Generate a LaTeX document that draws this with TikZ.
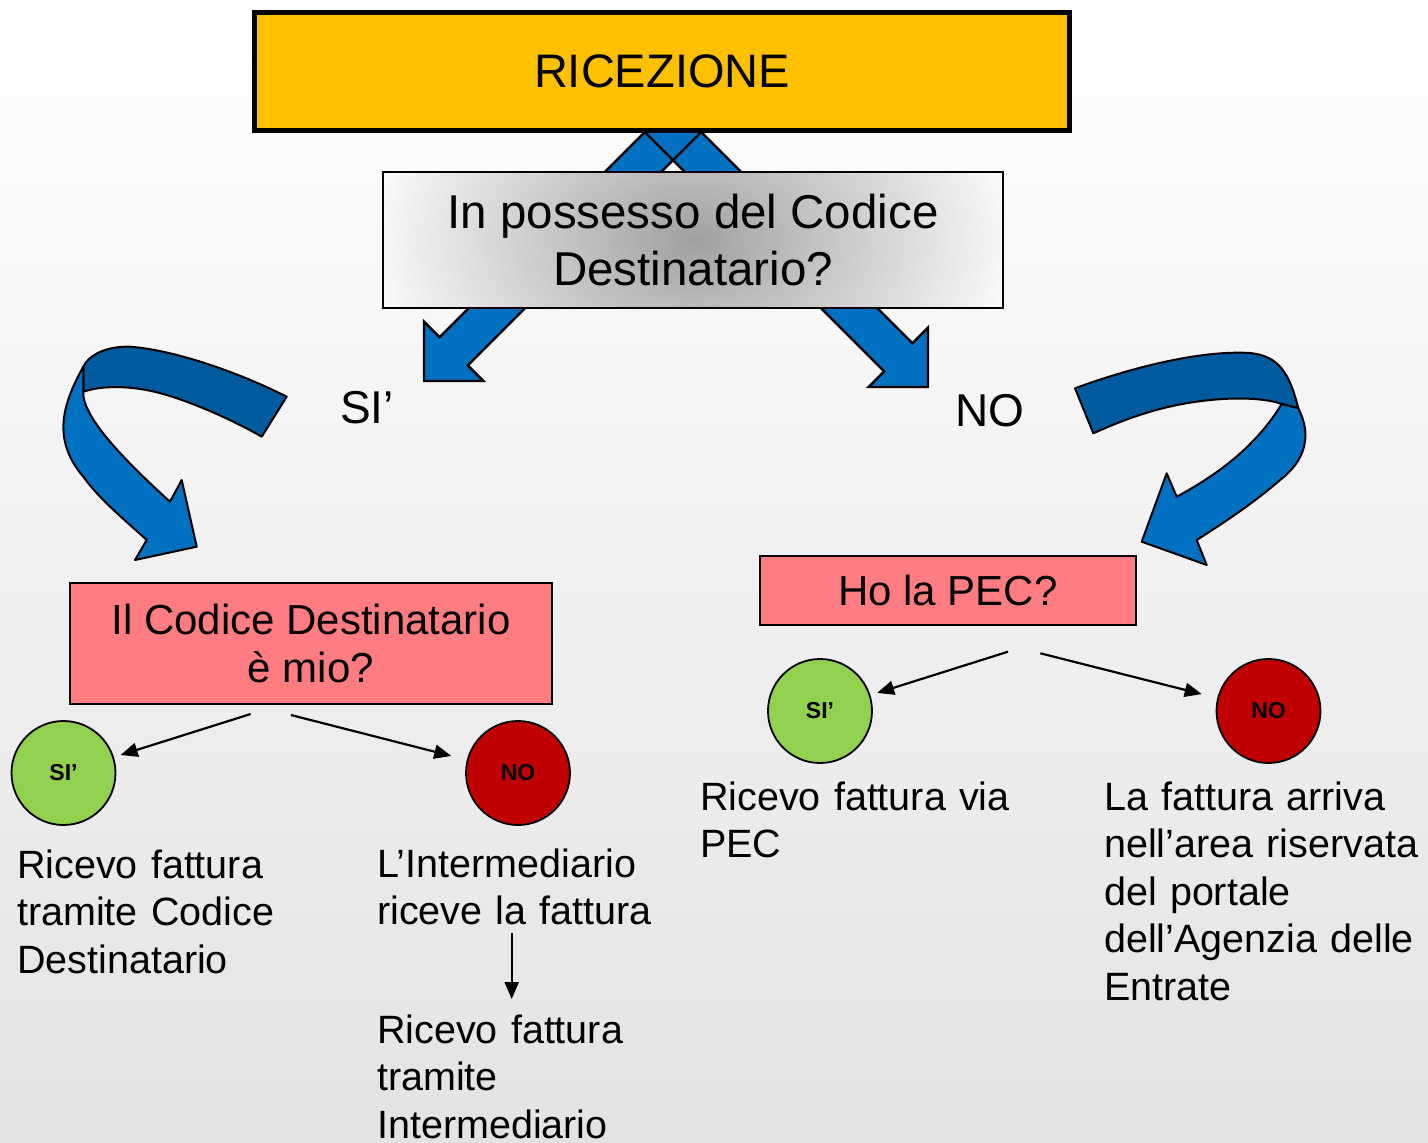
\documentclass[tikz,border=0pt]{standalone}
\usepackage{fontspec}
\setmainfont{Liberation Sans}
\usetikzlibrary{arrows.meta}
\definecolor{gold}{RGB}{255,192,0}
\definecolor{pinkbox}{RGB}{255,124,128}
\definecolor{ablue}{RGB}{0,112,192}
\definecolor{dblue}{RGB}{0,90,158}
\definecolor{sigreen}{RGB}{146,208,80}
\definecolor{nored}{RGB}{192,0,0}
\definecolor{bgmid}{RGB}{247,247,247}
\definecolor{bgbot}{RGB}{227,227,227}
\definecolor{boxgray}{RGB}{160,160,160}
\begin{document}
\begin{tikzpicture}[x=1pt,y=-1pt,
  pinkq/.style={draw=black, line width=1.8pt, fill=pinkbox, outer sep=0pt, inner sep=0pt, align=center, font=\fontsize{42}{48}\selectfont},
  answer/.style={circle, draw=black, line width=1.8pt, minimum size=104pt, inner sep=0pt, font=\bfseries\fontsize{23}{27}\selectfont},
  bodytext/.style={anchor=base west, inner sep=0pt, align=left, text width=340pt, font=\fontsize{39.5}{47.5}\selectfont},
  branchlabel/.style={anchor=base west, inner sep=0pt, font=\fontsize{46}{55}\selectfont},
  thinarrow/.style={line width=2.2pt, -{Triangle[length=17pt,width=14pt]}},
  blockarrow/.style={line width=2.4pt, draw=black, line join=miter},
  ribbon/.style={line width=2pt, draw=black, line join=round}
]
\useasboundingbox (0,0) rectangle (1428,1143);
\shade[top color=white, middle color=bgmid, bottom color=bgbot] (0,0) rectangle (1428,1143);

% straight block arrows (fill, then outlines)
\fill[ablue] (690.9,85.9) -- (439.6,337.2) -- (424,321.6) -- (424,381) -- (483.4,381) -- (467.8,365.4) -- (719.1,114.1) -- cycle;
\fill[ablue] (655.1,85.9) -- (912.4,343.2) -- (928,327.6) -- (928,387) -- (868.6,387) -- (884.2,371.4) -- (626.9,114.1) -- cycle;
\draw[blockarrow] (690.9,85.9) -- (439.6,337.2) -- (424,321.6) -- (424,381) -- (483.4,381) -- (467.8,365.4) -- (719.1,114.1) -- cycle;
\draw[blockarrow] (655.1,85.9) -- (912.4,343.2) -- (928,327.6) -- (928,387) -- (868.6,387) -- (884.2,371.4) -- (626.9,114.1) -- cycle;

% title box
\node[draw=black, line width=5pt, fill=gold, minimum width=815pt, minimum height=118pt, inner sep=0pt,
      font=\fontsize{47}{56}\selectfont] (title) at (662,71.5) {RICEZIONE};

% question box with radial gradient
\begin{scope}
  \clip (383,172) rectangle (1003,308);
  \shade[inner color=boxgray, outer color=white] (693,240) ellipse [x radius=340, y radius=230];
\end{scope}
\node[draw=black, line width=1.5pt, minimum width=620pt, minimum height=136pt, inner sep=0pt, align=center,
      font=\fontsize{47.5}{57}\selectfont] (q1) at (693,240) {In possesso del Codice\\Destinatario?};

% branch labels
\node[branchlabel] (lsi) at (340,423) {SI’};
\node[branchlabel] (lno) at (955,426) {NO};

% left curved ribbon arrow
\filldraw[ribbon, fill=dblue] (286.7,396.7)
  .. controls (240,373) and (175,350) .. (130,346.7)
  .. controls (105,346) and (88,356) .. (83.3,366.7)
  -- (83.3,391.7)
  .. controls (100,386) and (130,384) .. (166.7,395)
  .. controls (200,405) and (240,424) .. (261.7,436.7) -- cycle;
\filldraw[ribbon, fill=ablue] (83.3,366.7)
  .. controls (62,405) and (52,440) .. (83.3,476.7)
  .. controls (100,500) and (125,520) .. (146.7,540)
  -- (135,560) -- (196.7,546.7) -- (181.7,480) -- (170,501.7)
  .. controls (135,470) and (100,435) .. (88,410)
  .. controls (84,402) and (83,396) .. (83.3,391.7)
  -- cycle;

% right curved ribbon arrow
\filldraw[ribbon, fill=dblue] (1075,388.3)
  .. controls (1130,368) and (1200,350) .. (1250,353)
  .. controls (1280,356) and (1290,375) .. (1298.3,408.3)
  -- (1281.7,404)
  .. controls (1260,396) and (1210,396) .. (1160,409)
  .. controls (1130,417) and (1110,426) .. (1093.3,433.3) -- cycle;
\filldraw[ribbon, fill=ablue] (1298.3,408.3)
  .. controls (1312,435) and (1306,460) .. (1280,480)
  .. controls (1255,502) and (1225,522) .. (1196.7,540)
  -- (1206.7,565) -- (1141.7,541.7) -- (1166.7,473.3) -- (1176.7,496.7)
  .. controls (1215,476) and (1255,448) .. (1281.7,404)
  -- cycle;

% second level questions
\node[pinkq, minimum width=482pt, minimum height=121pt] (q2) at (311,643.5) {Il Codice Destinatario\\è mio?};
\node[pinkq, minimum width=376pt, minimum height=69pt] (q3) at (948,590.5) {Ho la PEC?};

% answer circles
\node[answer, fill=sigreen] (siL) at (63.5,773) {SI’};
\node[answer, fill=nored] (noL) at (518,773) {NO};
\node[answer, fill=sigreen] (siR) at (820,711) {SI’};
\node[answer, fill=nored] (noR) at (1268.5,711) {NO};

% thin arrows
\coordinate (l1) at (250.7,714);
\coordinate (l2) at (290.9,715);
\coordinate (r1) at (1008,651.7);
\coordinate (r2) at (1040.4,653.3);
\draw[thinarrow, shorten >=7pt] (l1) -- (siL);
\draw[thinarrow, shorten >=16pt] (l2) -- (noL);
\draw[thinarrow, shorten >=7pt] (r1) -- (siR);
\draw[thinarrow, shorten >=16pt] (r2) -- (noR);

% texts
\node[bodytext] (t1) at (17,878) {Ricevo fattura\\tramite Codice\\Destinatario};
\node[bodytext] (t2) at (377,877) {L’Intermediario\\riceve la fattura};
\node[bodytext] (t3) at (377,1043) {Ricevo fattura\\tramite\\Intermediario};
\node[bodytext] (t4) at (700,810) {Ricevo fattura via\\PEC};
\node[bodytext] (t5) at (1104,810) {La fattura arriva\\nell’area riservata\\del portale\\dell’Agenzia delle\\Entrate};

\coordinate (v1) at (511.7,933);
\coordinate (v2) at (511.7,999);
\draw[thinarrow] (v1) -- (v2);
\end{tikzpicture}
\end{document}
